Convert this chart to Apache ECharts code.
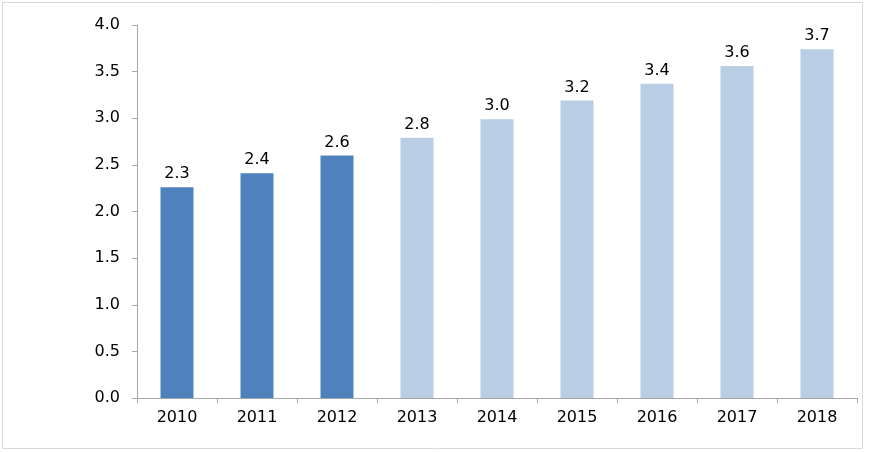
<!DOCTYPE html>
<html>
<head>
<meta charset="utf-8">
<script src="https://cdn.jsdelivr.net/npm/echarts@6/dist/echarts.min.js"></script>
<style>html,body{margin:0;padding:0;background:#fff;}#c{width:871px;height:452px;}</style>
</head>
<body>
<div id="c"></div>
<script>
const categories = ['2010','2011','2012','2013','2014','2015','2016','2017','2018'];
const values = [2.26, 2.41, 2.60, 2.79, 2.99, 3.19, 3.37, 3.56, 3.74];
const actualYears = 3; // first bars drawn in dark colour
const yTicks = { min: 0, max: 4, interval: 0.5 };

const font = 'DejaVu Sans';
const chart = echarts.init(document.getElementById('c'));
chart.setOption({
  animation: false,
  backgroundColor: '#fff',
  graphic: [{
    type: 'rect', silent: true,
    shape: { x: 2.5, y: 2.5, width: 860, height: 446 },
    style: { fill: 'none', stroke: '#D9D9D9', lineWidth: 1 }
  }],
  grid: { left: 137, right: 14, top: 25, bottom: 54 },
  xAxis: {
    type: 'category',
    data: categories,
    axisLine: { lineStyle: { color: '#A6A6A6', width: 1 } },
    axisTick: { show: true, length: 5, lineStyle: { color: '#A6A6A6' } },
    axisLabel: { color: '#000', fontFamily: font, fontSize: 16, margin: 12 }
  },
  yAxis: {
    type: 'value',
    min: yTicks.min, max: yTicks.max, interval: yTicks.interval,
    splitLine: { show: false },
    axisLine: { show: true, lineStyle: { color: '#A6A6A6', width: 1 } },
    axisTick: { show: true, length: 5, lineStyle: { color: '#A6A6A6' } },
    axisLabel: { color: '#000', fontFamily: font, fontSize: 16, margin: 17,
      formatter: v => v.toFixed(1) }
  },
  series: [{
    type: 'bar',
    data: values,
    barWidth: 33,
    itemStyle: {
      color: p => p.dataIndex < actualYears ? '#4F81BD' : '#B9CDE5'
    },
    label: {
      show: true, position: 'top', distance: 5,
      color: '#000', fontFamily: font, fontSize: 16,
      formatter: p => p.value.toFixed(1)
    }
  }]
});
</script>
</body>
</html>
